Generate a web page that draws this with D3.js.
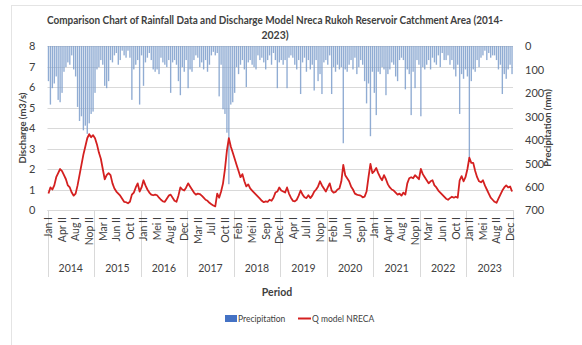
<!DOCTYPE html>
<html>
<head>
<meta charset="utf-8">
<script src="https://cdn.jsdelivr.net/npm/d3@7"></script>
<style>
  html, body { margin: 0; padding: 0; background: #fff; }
  svg { display: block; }
  text { font-family: Lato, "Open Sans", "DejaVu Sans", sans-serif; fill: #404040; }
</style>
</head>
<body>
<svg id="chart" width="582" height="345"></svg>
<script>
// Rukoh reservoir catchment, half-monthly periods 2014–2023
const years = ["2014","2015","2016","2017","2018","2019","2020","2021","2022","2023"];
const months = ["Jan","Feb","Mar","Apr","Mei","Jun","Jul","Aug","Sep","Oct","Nop","Dec"];
const halves = ["I","II"];

// Half-monthly precipitation (mm)
const precipitation = [
  150,250,180,160,130,230,240,200,110,90,70,80,40,100,130,260,320,300,360,340,375,330,290,280,
  200,100,90,60,80,170,180,150,60,70,40,30,80,60,20,40,50,20,50,230,100,80,60,250,
  40,170,70,50,30,60,100,110,100,120,50,70,80,90,60,200,70,60,80,150,210,90,110,60,
  180,100,110,60,40,50,90,70,100,60,110,80,40,25,40,30,215,80,270,290,370,590,250,240,
  200,90,120,80,60,100,175,70,60,80,90,100,40,60,50,70,100,60,40,80,30,60,180,70,
  60,80,60,180,50,40,50,80,100,60,205,70,50,110,60,100,80,190,60,150,120,205,70,60,
  80,40,205,90,110,80,100,90,415,100,110,80,60,100,50,120,90,60,80,150,245,160,385,110,
  200,295,110,120,90,100,210,120,100,70,80,130,150,60,50,60,185,100,120,295,110,180,60,80,
  300,90,100,80,60,100,50,70,80,40,90,30,60,60,40,80,60,100,130,80,290,120,140,100,
  130,480,150,100,110,60,90,50,40,20,60,30,50,40,40,60,100,80,205,120,140,100,80,120
];

// Half-monthly discharge from the NRECA model (m3/s)
const discharge = [
  0.8,1.1,1.0,1.2,1.6,1.8,2.0,1.9,1.7,1.5,1.2,1.1,0.85,0.7,0.8,1.2,1.7,2.2,2.7,3.1,3.5,3.7,3.55,3.65,
  3.5,3.2,2.8,2.5,2.0,1.5,1.7,1.8,1.7,1.3,1.05,0.9,0.8,0.7,0.55,0.4,0.38,0.33,0.4,0.75,0.85,1.1,1.3,0.9,
  1.1,1.45,1.2,1.0,0.85,0.75,0.72,0.75,0.72,0.6,0.5,0.42,0.4,0.55,0.7,0.75,0.6,0.45,0.4,0.7,1.1,1.0,0.95,1.1,
  1.3,1.15,1.0,0.85,0.75,0.8,0.78,0.7,0.6,0.5,0.45,0.35,0.28,0.22,0.18,0.8,0.6,0.9,1.3,2.0,2.9,3.5,3.1,2.8,
  2.5,2.2,1.9,1.6,1.75,1.4,1.15,1.25,1.05,0.95,0.85,0.75,0.65,0.55,0.45,0.38,0.42,0.4,0.5,0.45,0.6,0.85,0.9,1.1,
  0.95,0.9,0.85,1.1,0.8,0.6,0.45,0.42,0.5,0.7,0.95,0.75,0.62,0.58,0.72,0.58,0.7,0.9,1.0,1.15,1.4,1.2,1.05,0.9,
  1.1,1.3,0.95,0.85,0.88,1.0,1.05,1.4,2.2,1.7,1.55,1.4,1.15,1.0,0.8,0.75,0.72,0.7,0.62,0.65,0.9,1.6,2.25,1.8,
  1.9,2.05,1.8,1.6,1.45,1.7,1.5,1.25,1.1,1.0,0.95,0.85,0.75,0.8,0.7,0.85,0.75,1.3,1.55,1.6,1.55,1.7,1.6,1.5,
  2.0,1.75,1.6,1.45,1.3,1.4,1.45,1.2,1.1,0.95,0.85,0.75,0.65,0.55,0.5,0.58,0.65,0.6,0.65,0.6,1.45,1.65,1.4,1.6,
  2.0,2.55,2.3,2.3,1.9,1.6,1.4,1.35,1.45,1.2,1.0,0.8,0.6,0.5,0.4,0.35,0.55,0.75,0.95,1.1,1.2,1.1,1.15,0.9
];

const dischargeTicks = [0,1,2,3,4,5,6,7,8];
const precipTicks = [0,100,200,300,400,500,600,700];
const labelEvery = 7;

// One category per half-month
const periods = [];
years.forEach(y => months.forEach(m => halves.forEach(h => periods.push({ year: y, label: m + " " + h }))));
const rows = periods.map((p, i) => ({ i, year: p.year, label: p.label, p: precipitation[i], q: discharge[i] }));

const svg = d3.select("#chart");
const m = { left: 47.5, right: 513, top: 46, bottom: 210 };

// faint chart frame
svg.append("rect").attr("x", 11.5).attr("y", 5.5).attr("width", 700).attr("height", 500)
  .attr("fill", "none").attr("stroke", "#e4e4e4");

const x = d3.scaleBand().domain(rows.map(d => d.i)).range([m.left, m.right]).paddingInner(0.3).paddingOuter(0.15);
const yQ = d3.scaleLinear().domain([0, 8]).range([m.bottom, m.top]);
const yP = d3.scaleLinear().domain([0, 700]).range([m.top, m.bottom]);

// horizontal gridlines
svg.append("g").selectAll("line").data(dischargeTicks).join("line")
  .attr("x1", m.left).attr("x2", m.right)
  .attr("y1", d => Math.round(yQ(d)) + 0.5).attr("y2", d => Math.round(yQ(d)) + 0.5)
  .attr("stroke", "#d9d9d9").attr("stroke-width", 1);

// precipitation bars hanging from the top
svg.append("g").selectAll("rect").data(rows).join("rect")
  .attr("x", d => x(d.i)).attr("width", x.bandwidth())
  .attr("y", yP(0)).attr("height", d => yP(d.p) - yP(0))
  .attr("fill", "#7d9dcb").attr("fill-opacity", 0.85);

// discharge line
const line = d3.line().x(d => x(d.i) + x.bandwidth() / 2).y(d => yQ(d.q));
svg.append("path").datum(rows).attr("d", line)
  .attr("fill", "none").attr("stroke", "#d42020").attr("stroke-width", 1.8).attr("stroke-linejoin", "round");

// left axis
const leftAxis = svg.append("g").attr("transform", `translate(${m.left - 9},0)`)
  .call(d3.axisLeft(yQ).tickValues(dischargeTicks).tickSize(0).tickFormat(d3.format("d")));
leftAxis.select(".domain").remove();
leftAxis.selectAll("text").attr("font-size", 11).attr("fill", "#404040").attr("dy", "0.35em");

// right axis
const rightAxis = svg.append("g").attr("transform", `translate(${m.right + 9},0)`)
  .call(d3.axisRight(yP).tickValues(precipTicks).tickSize(0).tickFormat(d3.format("d")));
rightAxis.select(".domain").remove();
rightAxis.selectAll("text").attr("font-size", 11).attr("fill", "#404040").attr("dy", "0.35em");

// category axis baseline
svg.append("line").attr("x1", m.left).attr("x2", m.right)
  .attr("y1", m.bottom + 0.5).attr("y2", m.bottom + 0.5).attr("stroke", "#d9d9d9");

// year group separators
const yearEdges = years.map((y, k) => x(k * 24) - x.step() * x.paddingInner() / 2);
yearEdges.push(m.right);
svg.append("g").selectAll("line").data(yearEdges).join("line")
  .attr("x1", d => Math.round(d) + 0.5).attr("x2", d => Math.round(d) + 0.5)
  .attr("y1", m.bottom).attr("y2", 277)
  .attr("stroke", "#d9d9d9");

// rotated half-month labels
svg.append("g").selectAll("text").data(rows.filter(d => d.i % labelEvery === 0)).join("text")
  .attr("transform", d => `translate(${x(d.i) + x.bandwidth() / 2 + 3.8},${m.bottom + 7}) rotate(-90)`)
  .attr("text-anchor", "end").attr("font-size", 10.5).attr("fill", "#404040")
  .text(d => d.label);

// year labels
svg.append("g").selectAll("text").data(years).join("text")
  .attr("x", (d, k) => (yearEdges[k] + yearEdges[k + 1]) / 2).attr("y", 272)
  .attr("text-anchor", "middle").attr("font-size", 10.5).attr("fill", "#404040")
  .text(d => d);

// titles
svg.append("text").attr("x", 275).attr("y", 24).attr("text-anchor", "middle")
  .attr("font-size", 10.5).attr("font-weight", "bold").attr("fill", "#262626")
  .attr("textLength", 456).attr("lengthAdjust", "spacingAndGlyphs")
  .text("Comparison Chart of Rainfall Data and Discharge Model Nreca  Rukoh Reservoir Catchment Area (2014-");
svg.append("text").attr("x", 275).attr("y", 39).attr("text-anchor", "middle")
  .attr("font-size", 10.5).attr("font-weight", "bold").attr("fill", "#262626")
  .text("2023)");

svg.append("text").attr("transform", "translate(26,128) rotate(-90)").attr("text-anchor", "middle")
  .attr("font-size", 9.5).attr("font-weight", "bold").attr("fill", "#404040")
  .text("Discharge  (m3/s)");
svg.append("text").attr("transform", "translate(551,128) rotate(-90)").attr("text-anchor", "middle")
  .attr("font-size", 9.5).attr("font-weight", "bold").attr("fill", "#404040")
  .text("Precipitation (mm)");
svg.append("text").attr("x", 277).attr("y", 296).attr("text-anchor", "middle")
  .attr("font-size", 10.5).attr("font-weight", "bold").attr("fill", "#404040")
  .text("Period");

// legend
const lg = svg.append("g").attr("transform", "translate(225,319)");
lg.append("rect").attr("x", 0).attr("y", -4).attr("width", 12).attr("height", 7).attr("fill", "#4472c4");
lg.append("text").attr("x", 13).attr("y", 3).attr("font-size", 8.5).attr("fill", "#404040").text("Precipitation");
lg.append("line").attr("x1", 73).attr("x2", 86).attr("y1", -0.5).attr("y2", -0.5)
  .attr("stroke", "#d42020").attr("stroke-width", 2);
lg.append("text").attr("x", 87).attr("y", 3).attr("font-size", 8.5).attr("fill", "#404040").text("Q model NRECA");
</script>
</body>
</html>
